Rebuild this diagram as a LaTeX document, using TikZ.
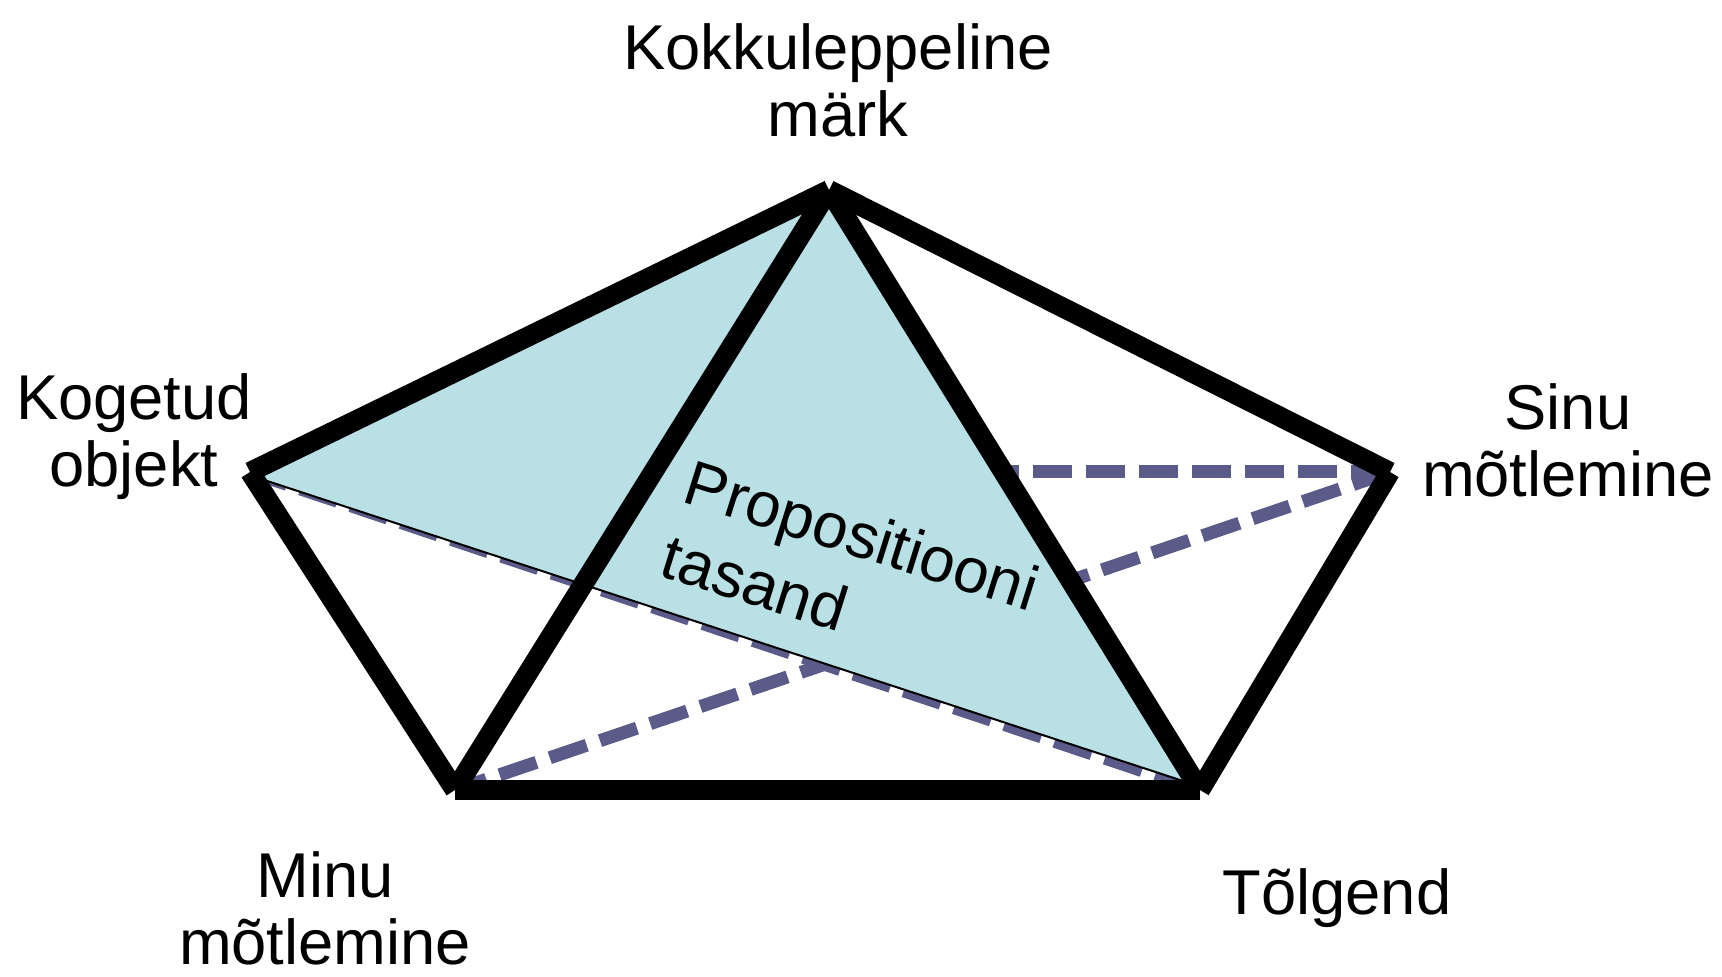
\documentclass[tikz,border=0pt]{standalone}
\usepackage{fontspec}
\setmainfont{Liberation Sans}
\definecolor{planecyan}{RGB}{185,224,228}
\definecolor{thinkblue}{RGB}{91,91,138}

\begin{document}
\begin{tikzpicture}[x=0.01cm, y=-0.01cm,
	edge/.style={line width=0.2cm},
	thought/.style={color=thinkblue, line width=0.13cm, dash pattern=on 0.39cm off 0.14cm},
	vertexname/.style={font=\fontsize{18}{19.3}\selectfont, align=center, anchor=base, inner sep=0pt}]
	\useasboundingbox (0,0) rectangle (1722,977);
	% corners of the pentagon
	\coordinate (mark) at (829,190);
	\coordinate (object) at (250,472);
	\coordinate (yours) at (1390,472);
	\coordinate (mine) at (455,790);
	\coordinate (interp) at (1200,790);
	% ends of the plane's lower edge
	\coordinate (planeleft) at (258,478);
	\coordinate (planeright) at (1183,781);
	% dashed lines of thought
	\draw[thought] (yours) -- (object);
	\draw[thought] (yours) -- (mine);
	\draw[thought] (object) -- (interp);
	% proposition plane
	\fill[planecyan] (planeleft) -- (mark) -- (planeright) -- cycle;
	\draw[line width=0.02cm] (planeleft) -- (planeright);
	% thick edges
	\draw[edge] (mark) -- (object);
	\draw[edge] (mark) -- (yours);
	\draw[edge] (mark) -- (mine);
	\draw[edge] (mark) -- (interp);
	\draw[edge] (object) -- (mine);
	\draw[edge] (yours) -- (interp);
	\draw[edge] (mine) -- (interp);
	% names (base = last line)
	\node[vertexname] (signname) at (838,137) {Kokkuleppeline\\m\"ark};
	\node[vertexname] (objectname) at (134,487) {Kogetud\\objekt};
	\node[vertexname] (yoursname) at (1568,497) {Sinu\\mõtlemine};
	\node[vertexname] (minename) at (325,965) {Minu\\mõtlemine};
	\node[vertexname] (interpname) at (1337,915) {Tõlgend};
	\node[vertexname, align=left, anchor=base west, rotate=-17.5, font=\fontsize{18}{22}\selectfont] (planename) at (657,575) {Propositiooni\\tasand};
\end{tikzpicture}
\end{document}
